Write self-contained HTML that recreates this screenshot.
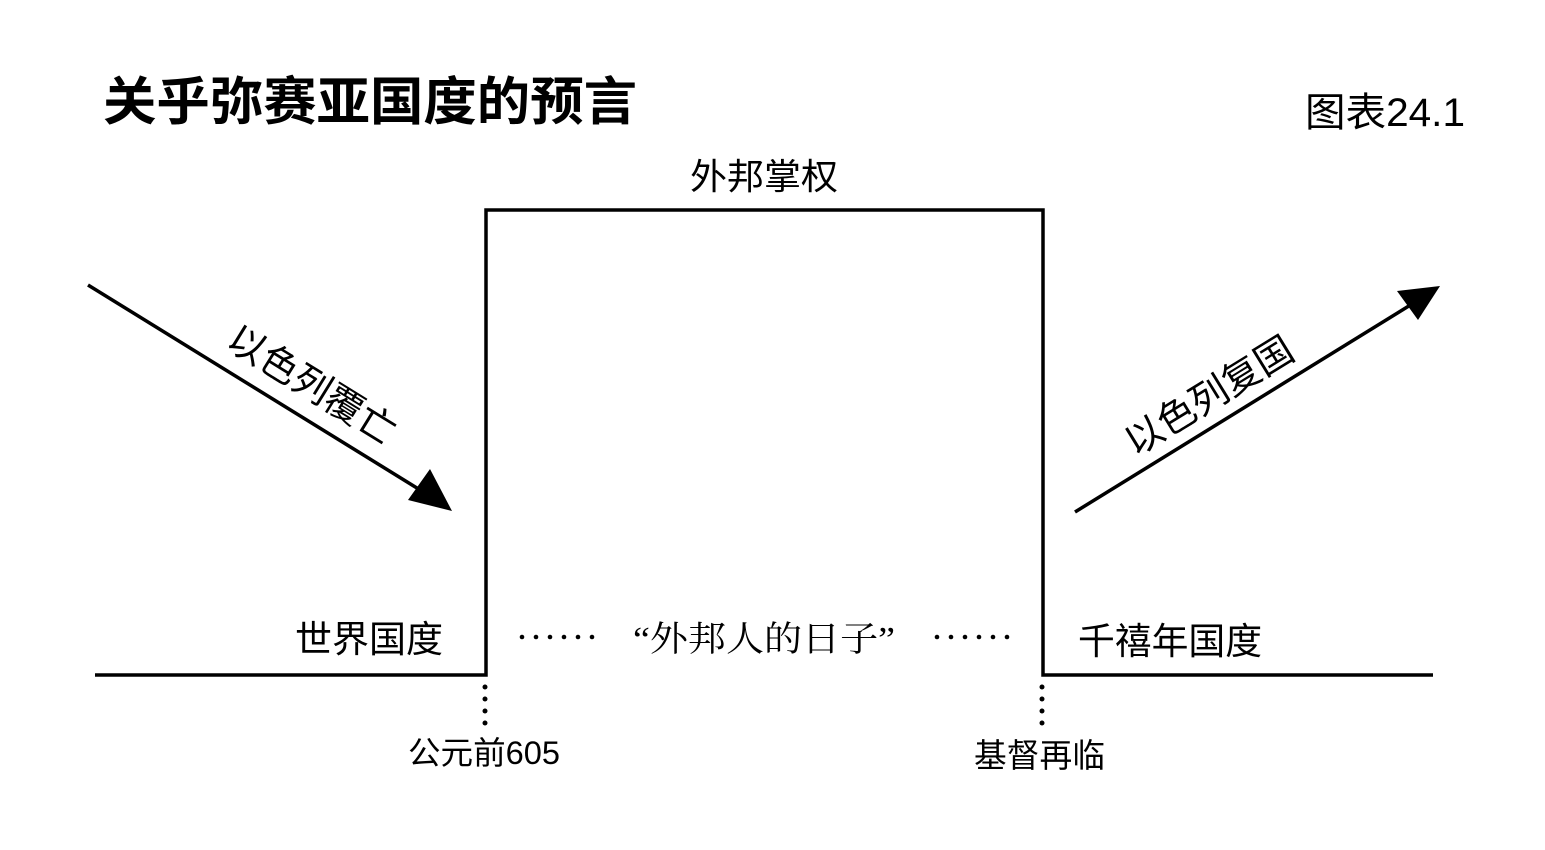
<!DOCTYPE html>
<html><head><meta charset="utf-8"><style>
html,body{margin:0;padding:0;background:#fff;}
svg{display:block;}
text{font-family:"Liberation Sans","Noto Sans CJK SC",sans-serif;fill:#000;}
</style></head><body>
<svg width="1545" height="850" viewBox="0 0 1545 850" xmlns="http://www.w3.org/2000/svg">
<text x="103" y="120" font-size="52" font-weight="bold" textLength="534" lengthAdjust="spacingAndGlyphs">关乎弥赛亚国度的预言</text>
<text x="1305" y="126" font-size="40" textLength="160" lengthAdjust="spacingAndGlyphs">图表24.1</text>
<g stroke="#000" stroke-width="3.5" fill="none">
<polyline points="95,675 486,675 486,210 1043,210 1043,675 1433,675"/>
<line x1="88" y1="285" x2="425" y2="493"/>
<line x1="1075" y1="512" x2="1412" y2="304"/>
</g>
<polygon points="452,511 408,500 430,469" fill="#000"/>
<polygon points="1440,286 1418,320 1397,291" fill="#000"/>
<g fill="#000">
<circle cx="485" cy="687" r="2.5"/><circle cx="485" cy="699" r="2.5"/><circle cx="485" cy="711" r="2.5"/><circle cx="485" cy="723" r="2.5"/>
<circle cx="1042" cy="687" r="2.5"/><circle cx="1042" cy="699" r="2.5"/><circle cx="1042" cy="711" r="2.5"/><circle cx="1042" cy="723" r="2.5"/>
<circle cx="522" cy="637" r="2.3"/><circle cx="536" cy="637" r="2.3"/><circle cx="550" cy="637" r="2.3"/><circle cx="564" cy="637" r="2.3"/><circle cx="578" cy="637" r="2.3"/><circle cx="592" cy="637" r="2.3"/>
<circle cx="937" cy="637" r="2.3"/><circle cx="951" cy="637" r="2.3"/><circle cx="965" cy="637" r="2.3"/><circle cx="979" cy="637" r="2.3"/><circle cx="993" cy="637" r="2.3"/><circle cx="1007" cy="637" r="2.3"/>
</g>
<text x="690" y="189" font-size="36" textLength="148" lengthAdjust="spacingAndGlyphs">外邦掌权</text>
<text x="295" y="652" font-size="37" textLength="148" lengthAdjust="spacingAndGlyphs">世界国度</text>
<text x="1078" y="654" font-size="37" textLength="184" lengthAdjust="spacingAndGlyphs">千禧年国度</text>
<text x="633" y="651" font-size="35" textLength="262" lengthAdjust="spacingAndGlyphs" style="font-family:'Liberation Serif','Noto Serif CJK SC',serif">“外邦人的日子”</text>
<text x="408" y="764" font-size="32" textLength="152" lengthAdjust="spacingAndGlyphs">公元前605</text>
<text x="974" y="767" font-size="33" textLength="131" lengthAdjust="spacingAndGlyphs">基督再临</text>
<text x="0" y="0" font-size="38" text-anchor="middle" transform="translate(305,396) rotate(31.7)">以色列覆亡</text>
<text x="0" y="0" font-size="38" text-anchor="middle" transform="translate(1216,407) rotate(-31.6)">以色列复国</text>
</svg>
</body></html>
